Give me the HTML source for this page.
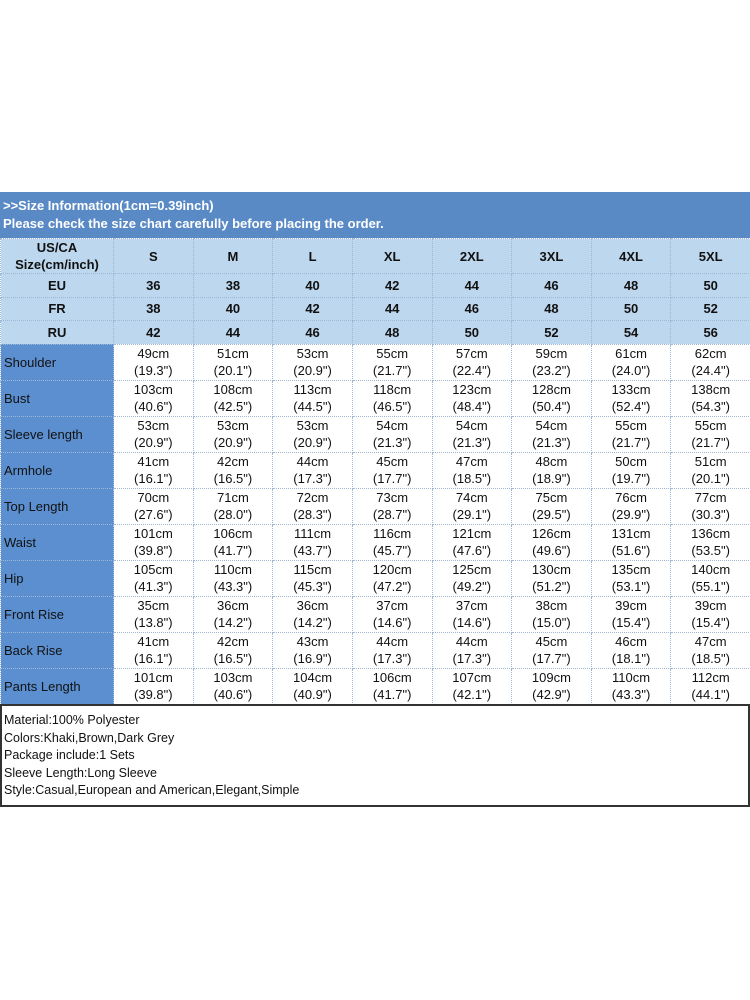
<!DOCTYPE html>
<html><head><meta charset="utf-8"><style>
*{margin:0;padding:0;box-sizing:border-box}
body{width:750px;height:1000px;background:#fff;font-family:"Liberation Sans",Arial,sans-serif;position:relative;overflow:hidden}
.hdr{position:absolute;left:0;top:192px;width:750px;height:46px;background:#5a8ac6;color:#fff;font-weight:bold;font-size:13px;line-height:18px;padding:5px 0 0 3px}
table{position:absolute;left:0;top:238px;width:750px;border-collapse:collapse;table-layout:fixed}
td{border:1px dotted #9fb6d4;text-align:center;font-size:13px;color:#111;line-height:17px;padding:0}
tr.h td{background:#bdd7ee;font-weight:bold;height:23.5px}
tr.h.top td{height:34px}
tr.d td{height:36px;background:#fff}
tr.d td.l{background:#5b8fd0;text-align:left;padding-left:3px;color:#111}
.notes{position:absolute;left:0;top:704px;width:750px;height:103px;border:2px solid #333;font-size:12.5px;line-height:17.5px;padding:6px 0 0 2px;color:#111}
</style></head><body>
<div class="hdr">&gt;&gt;Size Information(1cm=0.39inch)<br>Please check the size chart carefully before placing the order.</div>
<table>
<colgroup><col style="width:113px"><col span="8" style="width:79.625px"></colgroup>
<tr class="h top"><td>US/CA<br>Size(cm/inch)</td><td>S</td><td>M</td><td>L</td><td>XL</td><td>2XL</td><td>3XL</td><td>4XL</td><td>5XL</td></tr>
<tr class="h"><td>EU</td><td>36</td><td>38</td><td>40</td><td>42</td><td>44</td><td>46</td><td>48</td><td>50</td></tr>
<tr class="h"><td>FR</td><td>38</td><td>40</td><td>42</td><td>44</td><td>46</td><td>48</td><td>50</td><td>52</td></tr>
<tr class="h"><td>RU</td><td>42</td><td>44</td><td>46</td><td>48</td><td>50</td><td>52</td><td>54</td><td>56</td></tr>
<tr class="d"><td class="l">Shoulder</td><td>49cm<br>(19.3")</td><td>51cm<br>(20.1")</td><td>53cm<br>(20.9")</td><td>55cm<br>(21.7")</td><td>57cm<br>(22.4")</td><td>59cm<br>(23.2")</td><td>61cm<br>(24.0")</td><td>62cm<br>(24.4")</td></tr>
<tr class="d"><td class="l">Bust</td><td>103cm<br>(40.6")</td><td>108cm<br>(42.5")</td><td>113cm<br>(44.5")</td><td>118cm<br>(46.5")</td><td>123cm<br>(48.4")</td><td>128cm<br>(50.4")</td><td>133cm<br>(52.4")</td><td>138cm<br>(54.3")</td></tr>
<tr class="d"><td class="l">Sleeve length</td><td>53cm<br>(20.9")</td><td>53cm<br>(20.9")</td><td>53cm<br>(20.9")</td><td>54cm<br>(21.3")</td><td>54cm<br>(21.3")</td><td>54cm<br>(21.3")</td><td>55cm<br>(21.7")</td><td>55cm<br>(21.7")</td></tr>
<tr class="d"><td class="l">Armhole</td><td>41cm<br>(16.1")</td><td>42cm<br>(16.5")</td><td>44cm<br>(17.3")</td><td>45cm<br>(17.7")</td><td>47cm<br>(18.5")</td><td>48cm<br>(18.9")</td><td>50cm<br>(19.7")</td><td>51cm<br>(20.1")</td></tr>
<tr class="d"><td class="l">Top Length</td><td>70cm<br>(27.6")</td><td>71cm<br>(28.0")</td><td>72cm<br>(28.3")</td><td>73cm<br>(28.7")</td><td>74cm<br>(29.1")</td><td>75cm<br>(29.5")</td><td>76cm<br>(29.9")</td><td>77cm<br>(30.3")</td></tr>
<tr class="d"><td class="l">Waist</td><td>101cm<br>(39.8")</td><td>106cm<br>(41.7")</td><td>111cm<br>(43.7")</td><td>116cm<br>(45.7")</td><td>121cm<br>(47.6")</td><td>126cm<br>(49.6")</td><td>131cm<br>(51.6")</td><td>136cm<br>(53.5")</td></tr>
<tr class="d"><td class="l">Hip</td><td>105cm<br>(41.3")</td><td>110cm<br>(43.3")</td><td>115cm<br>(45.3")</td><td>120cm<br>(47.2")</td><td>125cm<br>(49.2")</td><td>130cm<br>(51.2")</td><td>135cm<br>(53.1")</td><td>140cm<br>(55.1")</td></tr>
<tr class="d"><td class="l">Front Rise</td><td>35cm<br>(13.8")</td><td>36cm<br>(14.2")</td><td>36cm<br>(14.2")</td><td>37cm<br>(14.6")</td><td>37cm<br>(14.6")</td><td>38cm<br>(15.0")</td><td>39cm<br>(15.4")</td><td>39cm<br>(15.4")</td></tr>
<tr class="d"><td class="l">Back Rise</td><td>41cm<br>(16.1")</td><td>42cm<br>(16.5")</td><td>43cm<br>(16.9")</td><td>44cm<br>(17.3")</td><td>44cm<br>(17.3")</td><td>45cm<br>(17.7")</td><td>46cm<br>(18.1")</td><td>47cm<br>(18.5")</td></tr>
<tr class="d"><td class="l">Pants Length</td><td>101cm<br>(39.8")</td><td>103cm<br>(40.6")</td><td>104cm<br>(40.9")</td><td>106cm<br>(41.7")</td><td>107cm<br>(42.1")</td><td>109cm<br>(42.9")</td><td>110cm<br>(43.3")</td><td>112cm<br>(44.1")</td></tr>
</table>
<div class="notes">Material:100% Polyester<br>Colors:Khaki,Brown,Dark Grey<br>Package include:1 Sets<br>Sleeve Length:Long Sleeve<br>Style:Casual,European and American,Elegant,Simple</div>
</body></html>
